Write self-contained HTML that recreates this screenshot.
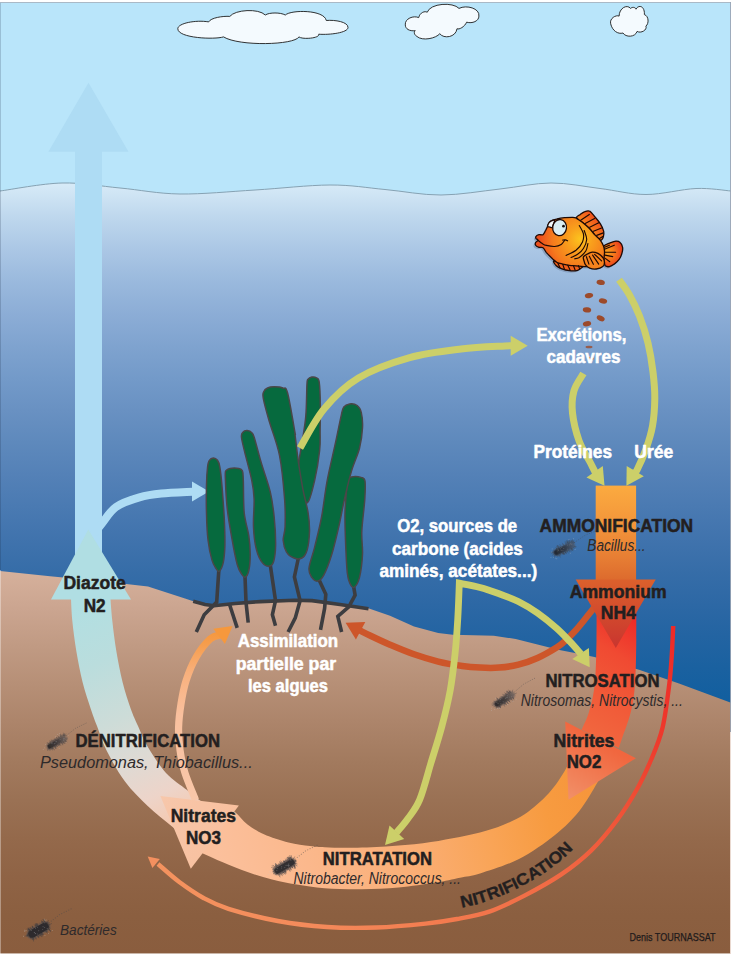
<!DOCTYPE html>
<html lang="fr"><head><meta charset="utf-8"><title>Cycle de l'azote</title>
<style>html,body{margin:0;padding:0;background:#fff}svg{display:block}text{font-family:"Liberation Sans",sans-serif}</style></head>
<body>
<svg width="731" height="954" viewBox="0 0 731 954">
<defs>
<linearGradient id="gw" gradientUnits="userSpaceOnUse" x1="0" y1="185" x2="0" y2="700"><stop offset="0.0" stop-color="#d6eaf7"/><stop offset="0.0625" stop-color="#bed7ed"/><stop offset="0.125" stop-color="#abc7e5"/><stop offset="0.1875" stop-color="#9ab9dd"/><stop offset="0.25" stop-color="#8cadd6"/><stop offset="0.3125" stop-color="#7fa3cf"/><stop offset="0.375" stop-color="#739ac9"/><stop offset="0.4375" stop-color="#6991c2"/><stop offset="0.5" stop-color="#5e89bc"/><stop offset="0.5625" stop-color="#5481b7"/><stop offset="0.625" stop-color="#4a7ab2"/><stop offset="0.6875" stop-color="#4073ad"/><stop offset="0.75" stop-color="#366da8"/><stop offset="0.8125" stop-color="#2d68a5"/><stop offset="0.875" stop-color="#2364a2"/><stop offset="0.9375" stop-color="#1a61a0"/><stop offset="1.0" stop-color="#125f9f"/></linearGradient>
<linearGradient id="gg" gradientUnits="userSpaceOnUse" x1="0" y1="570" x2="0" y2="954"><stop offset="0.0" stop-color="#d6b19c"/><stop offset="0.1" stop-color="#cba590"/><stop offset="0.2" stop-color="#c09a83"/><stop offset="0.3" stop-color="#b68f76"/><stop offset="0.4" stop-color="#ac846a"/><stop offset="0.5" stop-color="#a27a5e"/><stop offset="0.6" stop-color="#9a7154"/><stop offset="0.7" stop-color="#94694b"/><stop offset="0.8" stop-color="#8f6345"/><stop offset="0.9" stop-color="#8b5f40"/><stop offset="1.0" stop-color="#8a5d3e"/></linearGradient>
<linearGradient id="gsh" gradientUnits="userSpaceOnUse" x1="0" y1="485" x2="0" y2="585"><stop offset="0" stop-color="#fbab40"/><stop offset="0.4" stop-color="#f3953a"/><stop offset="0.75" stop-color="#e67c33"/><stop offset="1" stop-color="#da662c"/></linearGradient>
<linearGradient id="gred" gradientUnits="userSpaceOnUse" x1="650" y1="600" x2="540" y2="780"><stop offset="0.12" stop-color="#ee2c28"/><stop offset="0.3" stop-color="#f04a32"/><stop offset="0.5" stop-color="#f15a38"/><stop offset="0.7" stop-color="#f1673f"/><stop offset="0.85" stop-color="#f17b53"/><stop offset="1" stop-color="#f18f67"/></linearGradient>
<linearGradient id="gam" gradientUnits="userSpaceOnUse" x1="0" y1="579" x2="0" y2="648"><stop offset="0" stop-color="#dc612c"/><stop offset="0.5" stop-color="#d24a2d"/><stop offset="1" stop-color="#c9352f"/></linearGradient>
<linearGradient id="gnit" gradientUnits="userSpaceOnUse" x1="600" y1="760" x2="215" y2="840"><stop offset="0" stop-color="#f6943a"/><stop offset="0.16" stop-color="#f79b40"/><stop offset="0.31" stop-color="#f9a456"/><stop offset="0.52" stop-color="#faae75"/><stop offset="0.78" stop-color="#fbb88c"/><stop offset="1" stop-color="#fbc09c"/></linearGradient>
<linearGradient id="gden" gradientUnits="userSpaceOnUse" x1="90" y1="600" x2="190" y2="820"><stop offset="0" stop-color="#b1dfe2"/><stop offset="0.25" stop-color="#badddd"/><stop offset="0.5" stop-color="#cddcd8"/><stop offset="0.68" stop-color="#dedad4"/><stop offset="0.85" stop-color="#edd4c9"/><stop offset="1" stop-color="#f6c8ad"/></linearGradient>
<linearGradient id="glo" gradientUnits="userSpaceOnUse" x1="0" y1="800" x2="0" y2="630"><stop offset="0" stop-color="#f9c7a9"/><stop offset="0.5" stop-color="#f9c09e"/><stop offset="0.75" stop-color="#f8b07c"/><stop offset="0.92" stop-color="#f69d4c"/><stop offset="1" stop-color="#f5973c"/></linearGradient>
<linearGradient id="gnh" gradientUnits="userSpaceOnUse" x1="239" y1="830" x2="160" y2="800"><stop offset="0" stop-color="#f9bf9c"/><stop offset="1" stop-color="#f7c7ab"/></linearGradient>
<linearGradient id="garc" gradientUnits="userSpaceOnUse" x1="672" y1="626" x2="150" y2="860"><stop offset="0" stop-color="#ee2a28"/><stop offset="0.1" stop-color="#ee3a2c"/><stop offset="0.2" stop-color="#ef5036"/><stop offset="0.35" stop-color="#f16843"/><stop offset="0.6" stop-color="#f37d50"/><stop offset="0.8" stop-color="#f48b5b"/><stop offset="1" stop-color="#f4935f"/></linearGradient>
<radialGradient id="gfish" gradientUnits="userSpaceOnUse" cx="580" cy="239" r="40"><stop offset="0" stop-color="#fcc41e"/><stop offset="0.3" stop-color="#f9a01c"/><stop offset="0.7" stop-color="#f57a1d"/><stop offset="1" stop-color="#ec4f1c"/></radialGradient>
<radialGradient id="gtail" gradientUnits="userSpaceOnUse" cx="607" cy="252" r="17"><stop offset="0" stop-color="#f9a51c"/><stop offset="0.5" stop-color="#f4701c"/><stop offset="1" stop-color="#e8321c"/></radialGradient>
<linearGradient id="gdors" gradientUnits="userSpaceOnUse" x1="583" y1="230" x2="600" y2="214"><stop offset="0" stop-color="#f9961c"/><stop offset="0.5" stop-color="#f4681c"/><stop offset="1" stop-color="#ea3a1c"/></linearGradient>
<filter id="fb" x="-30%" y="-60%" width="160%" height="220%"><feGaussianBlur stdDeviation="0.7"/></filter>
<linearGradient id="gbf" x1="0" y1="0" x2="1" y2="0"><stop offset="0" stop-color="#1e1e22" stop-opacity="0.95"/><stop offset="0.55" stop-color="#2a2a2e" stop-opacity="0.8"/><stop offset="1" stop-color="#4a4a50" stop-opacity="0.45"/></linearGradient>
<path id="tpath" d="M456 909C460.2 908 471.8 905.9 481 903C490.2 900.1 501 896.2 511 891.5C521 886.8 531.8 880.9 541 875C550.2 869.1 558.5 862.6 566 856C573.5 849.4 582.7 838.9 586 835.5"/>
</defs>
<rect x="0" y="0" width="731" height="954" fill="#b9e5fa"/>
<path d="M0 191C10.3 189.7 42 183.5 62 183C82 182.5 100.3 186.2 120 188C139.7 189.8 157.5 193.7 180 194C202.5 194.3 230 191.5 255 190C280 188.5 308.3 185.1 330 185C351.7 184.9 366.5 187.8 385 189.5C403.5 191.2 421.8 195.1 441 195C460.2 194.9 481.7 191 500 189C518.3 187 534.3 183.1 551 183C567.7 182.9 584.2 186.6 600 188.5C615.8 190.4 630 194.5 646 194.5C662 194.5 681.8 189.1 696 188.5C710.2 187.9 725.2 190.6 731 191L731 720L0 720Z" fill="url(#gw)"/>
<path d="M0 191C10.3 189.7 42 183.5 62 183C82 182.5 100.3 186.2 120 188C139.7 189.8 157.5 193.7 180 194C202.5 194.3 230 191.5 255 190C280 188.5 308.3 185.1 330 185C351.7 184.9 366.5 187.8 385 189.5C403.5 191.2 421.8 195.1 441 195C460.2 194.9 481.7 191 500 189C518.3 187 534.3 183.1 551 183C567.7 182.9 584.2 186.6 600 188.5C615.8 190.4 630 194.5 646 194.5C662 194.5 681.8 189.1 696 188.5C710.2 187.9 725.2 190.6 731 191" fill="none" stroke="#86a2b3" stroke-width="1"/>
<path d="M0 571L50 576.3L100 581L148 586.6L185 598.5L194 601.5L212 605.5L235 603.5L260 601.6L300 600.4L340 604.5L369 608.4L390 615.8L414 626.6L438.2 633L452.7 634.8L493.8 635.7L515.7 639L537.5 644.4L559.4 650L581.3 654.3L594.4 657L639 669.7L679 683.6L731 702.7L731 954L0 954Z" fill="url(#gg)"/>
<path d="M177.8 28.7 C177.8 23.3 195.6 19.7 208.7 21.9 C210.6 17.8 222.9 15.9 229.8 16.4 C235.2 9.6 258.5 8.2 265.3 15 C269.4 12.3 280.4 12.3 285.3 15 C291.3 9.6 324.2 9.6 326.3 20.5 C335.1 19.7 348 21.9 348 27.4 C348 32.8 329.6 35 318.7 34.2 C320.1 38.3 302.3 39.7 299 36.9 C294.1 45.1 239.3 46.5 223.5 36.9 C214.7 39.7 177.8 38.3 177.8 28.7 Z" fill="#f4fafe" stroke="#1c1c1c" stroke-width="0.9" stroke-linejoin="round"/>
<path d="M405.3 24.9 C404.6 18.4 413.8 15.3 418.7 17.6 C419.9 12.3 425.2 10.7 427.2 12.3 C430.2 3.1 453.2 1.9 459 8.4 C466.6 4.6 480 8.4 478.9 16.1 C478.9 21.1 472.4 23.8 466.6 22.2 C464.7 26.8 459 29.9 457 28.7 C455.9 37.5 443.6 39.1 439.8 33.7 C436 38.3 422.6 41.4 416.8 36.4 C413.8 34.5 413.8 31.4 415.3 30.7 C409.2 31.4 405.3 28.7 405.3 24.9 Z" fill="#f4fafe" stroke="#1c1c1c" stroke-width="0.9" stroke-linejoin="round"/>
<path d="M610.7 23.8 C609.2 18.4 616.1 14.6 619.1 16.1 C619.1 8.4 626.8 3.8 630.6 8.4 C632.1 6.9 635.2 6.9 636 9.2 C638.3 4.6 644.8 5.4 644.4 14.6 C649 16.1 649 23.8 645.9 26.1 C647.5 29.9 641 33.7 637.1 31.4 C635.2 37.5 625.6 37.5 623 33 C618 34.5 612.2 30.7 610.7 23.8 Z" fill="#f4fafe" stroke="#1c1c1c" stroke-width="0.9" stroke-linejoin="round"/>
<path d="M88.5 82.8L128.5 151.8L102 151.8L102 560L75 560L75 151.8L48.4 151.8Z" fill="#aedcf4"/>
<path d="M94 534C95.3 532.2 98.3 527.9 102 523.4C105.7 518.9 109.8 511.3 116 507C122.2 502.7 131.8 499.6 139.4 497.4C147 495.1 152.4 494.4 161.3 493.5C170.2 492.6 187.7 492 193 491.7" fill="none" stroke="#aedcf4" stroke-width="8"/>
<path d="M209 491.4L192 501.4L192 481.4Z" fill="#aedcf4"/>
<g fill="none" stroke="#3d3d40" stroke-width="3.6" stroke-linejoin="miter"><path d="M193.2 601.2L205 604.5L214 605.8L235 603.5L260 601.6L294.4 600.2L312 600.6L340 604.5L368.5 608.8"/><path d="M218.9 569.1L216.7 602.1L204.2 614.7L196.3 632"/><path d="M245 576.4L246 602.1L248.2 622.6"/><path d="M229.3 603.7L237.2 627.9"/><path d="M270.2 564.4L275.5 600.6L272.4 614.7L275.5 625.7"/><path d="M298.5 557.5L294.4 577L300.1 600.6L295.3 617.9L288.1 632"/><path d="M318.9 579.5L325.8 594.3L324.6 608.4L320.5 629.8"/><path d="M353.5 585.8L355.1 595.2L348.8 606.9L337.8 616.3L341.6 632"/></g>
<g fill="#066a3e" stroke="#4a4748" stroke-width="1.5"><path d="M307 383.8C307.3 377.7 307.3 380.3 308.1 379.2C308.9 378.1 310.4 377.4 311.8 377.1C313.2 376.9 315.2 377 316.4 377.8C317.6 378.6 318.5 377.5 319.2 382C319.8 386.4 320.2 396.6 320.3 404.6C320.5 412.5 320.2 422.2 320.1 429.9C320 437.6 320.6 442.2 319.6 450.6C318.7 459.1 316.6 472 314.6 480.6C312.6 489.2 310 501 307.6 502.5C305.3 504 302.3 495.8 300.7 489.8C299.2 483.9 298.2 474.5 298.4 466.8C298.6 459.1 300.7 452.2 301.9 443.7C303.1 435.3 305 426.1 305.8 416.1C306.7 406.1 306.6 390 307 383.8Z"/><path d="M207.6 466.8C208.1 462.7 208.3 462 209.2 460.6C210.2 459.1 212 458.1 213.4 458C214.7 458 216.4 458.9 217.5 460.3C218.6 461.8 219.1 462.6 219.8 466.8C220.5 470.9 221.2 476.8 221.9 485.2C222.6 493.7 223.7 507.5 224.2 517.5C224.7 527.5 225 537.6 224.9 545.1C224.7 552.6 224.2 558.1 223.3 562.4C222.4 566.7 220.5 570.1 219.4 571.2C218.2 572.2 217.4 570.5 216.1 568.6C214.9 566.8 213.3 564.8 212 560.1C210.6 555.4 209 548.4 208.1 540.5C207.1 532.6 206.7 522.1 206.5 512.9C206.2 503.6 206.3 492.9 206.5 485.2C206.6 477.5 207.1 470.9 207.6 466.8Z"/><path d="M225.3 476C225.2 469.7 225.3 472 226 470.7C226.8 469.4 227.8 468.8 230 468.4C232.1 468 236.6 468 238.7 468.4C240.8 468.8 241.6 468.9 242.4 470.9C243.2 473 243 473.6 243.3 480.6C243.6 487.6 243.3 503.6 244.2 512.9C245.2 522.1 247.8 529 248.8 535.9C249.8 542.8 250.2 548.6 250.2 554.3C250.2 560.1 249.7 566.7 248.8 570.5C248 574.3 246.4 576.6 245.2 577.1C243.9 577.7 242.8 576 241.5 573.9C240.2 571.8 238.9 570.3 237.3 564.7C235.8 559.1 233.9 549.9 232.3 540.5C230.6 531.1 228.3 519 227.2 508.2C226 497.5 225.5 482.3 225.3 476Z"/><path d="M241.5 437.3C241.1 433.8 241.9 433.3 242.9 432.2C243.8 431.1 245.7 430.5 247.2 430.6C248.7 430.7 250.7 431.4 251.8 432.7C253 433.9 252.8 433.1 254.4 438C255.9 442.9 258.4 453.1 261.1 462.2C263.7 471.2 268.1 482.9 270.3 492.1C272.5 501.3 273.3 508.6 274.2 517.5C275.1 526.3 275.7 537.8 275.6 545.1C275.5 552.4 274.7 557.7 273.7 561.2C272.7 564.7 271.4 565.8 269.6 566.1C267.7 566.4 264.9 565.8 262.7 563.1C260.5 560.4 258 555.8 256.5 549.7C254.9 543.7 253.8 535.1 253.5 526.7C253.1 518.2 254.4 506.7 254.1 499C253.9 491.4 253.4 488.3 251.8 480.6C250.3 472.9 246.7 460.2 244.9 452.9C243.2 445.7 241.8 440.7 241.5 437.3Z"/><path d="M346.8 487.5C347.2 482.1 346.7 481.9 347.5 480.1C348.3 478.4 349.2 477.4 351.4 476.9C353.7 476.5 358.8 476.7 361.1 477.4C363.4 478.1 364.4 477.5 365 481.1C365.6 484.7 365.3 490.7 364.8 499C364.3 507.4 362.2 522.1 361.8 531.3C361.4 540.5 362.9 546.7 362.5 554.3C362.1 562 360.9 571.9 359.5 577.4C358.1 582.9 355.8 586.3 354.2 587.3C352.6 588.2 351 585.6 349.8 583.1C348.7 580.7 348 579.1 347.3 572.8C346.6 566.4 346.1 555.1 345.7 545.1C345.3 535.1 344.8 522.5 345 512.9C345.2 503.3 346.4 493 346.8 487.5Z"/><path d="M341.1 416.1C342.4 410 342.2 409.4 343.6 407.3C345 405.3 347.3 404.2 349.6 403.9C351.9 403.6 355.2 404 357.2 405.5C359.1 406.9 360.5 408.9 361.3 412.6C362.2 416.3 362.8 421.7 362.5 427.6C362.2 433.6 361.3 441 359.5 448.3C357.6 455.6 353.9 462.9 351.4 471.4C348.9 479.8 346.6 489.8 344.5 499C342.4 508.2 340.9 517.5 338.8 526.7C336.6 535.9 334.3 546.3 331.8 554.3C329.3 562.4 326.2 570.6 323.8 575.1C321.4 579.5 319.6 580.7 317.6 581.1C315.6 581.4 313.2 579.5 311.8 577.4C310.4 575.2 308.6 573.1 309 568.2C309.5 563.2 312.5 555.9 314.6 547.4C316.6 539 319.4 528.6 321.5 517.5C323.6 506.3 324.9 492.9 327.2 480.6C329.5 468.3 333 454.5 335.3 443.7C337.6 433 339.7 422.2 341.1 416.1Z"/><path d="M263.4 398.8C262.4 394 262.9 393.7 263.6 391.9C264.3 390.1 265.7 388.8 267.5 388C269.3 387.1 271.6 386.8 274.2 386.8C276.8 386.8 280.7 386.9 282.9 388C285.2 389 285.6 385.7 287.6 393C289.6 400.4 293.7 425.3 294.9 432.2C296.2 439.1 294.4 429.5 295 434.5C295.6 439.5 297.1 452.9 298.4 462.2C299.8 471.4 301.4 481.4 303 489.8C304.7 498.3 307 505.9 308.1 512.9C309.2 519.8 309.6 525.1 309.5 531.3C309.3 537.4 308.5 545.3 307.2 549.7C305.9 554.2 304.2 556.7 301.9 558C299.6 559.4 295.9 558.8 293.4 557.8C290.8 556.8 288.1 554.9 286.5 552C284.8 549.1 283.5 544.7 283.2 540.5C283 536.3 284.8 533.6 285.1 526.7C285.3 519.8 285.5 510.9 284.6 499C283.7 487.1 282.1 468.3 279.5 455.3C276.9 442.2 271.8 430.1 269.1 420.7C266.4 411.3 264.3 403.6 263.4 398.8Z"/></g>
<path d="M300 448C304 441.5 314.3 420.7 324 409C333.7 397.3 344.1 386.6 358.4 378C372.7 369.4 392.6 362.4 409.7 357.6C426.8 352.8 445.1 350.9 461 349C476.9 347.1 496.4 346.5 505 346C513.6 345.5 511.4 345.8 512.7 345.8" fill="none" stroke="#cccf69" stroke-width="7"/>
<path d="M527.7 345.8L510.7 355.8L510.7 335.8Z" fill="#cccf69"/>
<path d="M619 279.7C620.8 282.2 626.1 288.9 629.5 295C632.9 301.1 636.4 308 639.5 316C642.6 324 645.8 333.7 648 343C650.2 352.3 651.9 362.8 653 372C654.1 381.2 654.9 389 654.8 398C654.7 407 654 417.5 652.5 426C651 434.5 648.6 441.7 646 449C643.4 456.3 639 466 637 470C635 474 634.6 472.4 634.2 472.9" fill="none" stroke="#cccf69" stroke-width="7"/>
<path d="M626.4 485.7L626.7 466L643.8 476.3Z" fill="#cccf69"/>
<path d="M583.4 373.5C581.8 376.4 575.7 384.4 573.9 391C572.1 397.6 571.6 404.7 572.5 413C573.4 421.3 576.1 432.4 579 440.6C581.9 448.8 587.2 456.5 590 462C592.8 467.5 594.9 471.5 595.8 473.5" fill="none" stroke="#cccf69" stroke-width="7"/>
<path d="M604.5 485.7L586.5 477.6L602.8 466Z" fill="#cccf69"/>
<path d="M595.5 606C593.8 608.1 588.6 614.7 585.3 618.7C582 622.7 579 626.7 575.8 630.2C572.6 633.7 569.4 636.9 566.2 639.8C563 642.7 561.4 644.5 556.6 647.5C551.8 650.5 543.9 655.1 537.5 658C531.1 660.9 524.7 663.1 518.3 664.7C511.9 666.3 505.6 667.1 499.2 667.6C492.8 668.1 486.1 667.9 480 667.6C473.9 667.3 469.3 667 462.3 666C455.3 665 446.2 663.6 438.2 661.6C430.1 659.6 422 657.1 414 654.3C406 651.5 397.3 647.8 390 644.7C382.7 641.6 375.2 638 370 635.5C364.8 633 360.7 630.8 358.8 629.9" fill="none" stroke="#cd562a" stroke-width="6.5"/>
<path d="M345.6 622.8L365.3 622L355.9 639.6Z" fill="#cd562a"/>
<path d="M581 654C579.2 652 574.1 646 570 641.7C565.9 637.4 562 633.1 556.6 628.3C551.2 623.5 543.9 617.5 537.5 613C531.1 608.5 524.7 604.7 518.3 601.5C511.9 598.3 505.6 596.1 499.2 593.8C492.8 591.5 486.6 589.3 480 587.5C473.4 585.7 462.8 583.9 459.3 583.2C459.1 589 458.5 606.4 457.8 618.2C457.1 630.1 456.3 642.2 455 654.3C453.7 666.3 452.4 678.5 450.2 690.5C448 702.5 445 714.6 441.8 726.6C438.6 738.6 434.7 750.6 431 762.8C427.3 775 423.6 790.2 419.7 799.6C415.8 809 411.5 813.5 407.6 819C403.7 824.5 398.4 830.3 396.5 832.6" fill="none" stroke="#cccf69" stroke-width="6.8" stroke-linejoin="miter" stroke-miterlimit="10"/>
<path d="M589.7 667.2L572.3 659L588.9 647.9Z" fill="#cccf69"/>
<path d="M385 845L389.5 825.4L404.2 838.9Z" fill="#cccf69"/>
<rect x="595.7" y="485.6" width="40.4" height="100" fill="url(#gsh)"/>
<path d="M596.5 590C596.5 598.3 596.8 624.3 596.5 640C596.2 655.7 596 672 594.7 684C593.5 696 591.2 704.4 589 712C586.8 719.6 582.8 726.8 581.6 729.7L618.8 748C619.3 746.4 620 744.5 622 738.5C624 732.5 628.6 721.1 630.8 712C633 702.9 634.1 696 635 684C635.9 672 636.1 655.7 636.3 640C636.5 624.3 636.3 598.3 636.3 590Z" fill="url(#gred)"/>
<path d="M575.7 579.4L655.7 579.4L615.8 647.9Z" fill="url(#gam)"/>
<path d="M226 807C227.5 807.9 231.6 809.3 235.2 812.2C238.8 815.1 242.7 820.8 247.5 824.5C252.3 828.2 257.1 831.3 263.9 834.3C270.7 837.3 280.8 840.5 288.5 842.5C296.2 844.5 304 845.2 310 846C316 846.8 318.1 846.9 324.6 847.2C331.1 847.5 338.9 847.9 349.2 847.8C359.5 847.7 373.9 847.2 386.2 846.4C398.5 845.6 411.9 844.6 423 843.2C434.1 841.9 443.2 840.1 452.7 838.3C462.2 836.5 471.6 834.7 480 832.5C488.4 830.3 495.5 828.1 503 825C510.5 821.9 517.3 819.3 525 814C532.7 808.7 542.2 800.5 549 793C555.8 785.5 562 775.8 565.8 769C569.6 762.2 571 754.8 572 752L606 766C604.6 768.8 601.9 775.1 597.4 782.6C592.9 790.1 586.4 802.3 579.3 811C572.2 819.7 565 827 555 835C545 843 531.5 852.6 519 859C506.5 865.4 489.8 870.4 480 873.5C470.2 876.6 467.4 876.2 460 877.7C452.6 879.2 445.6 881 435.4 882.6C425.1 884.2 410.8 886.5 398.5 887.6C386.2 888.7 373.9 889.2 361.6 889.3C349.3 889.4 335.4 889.1 324.6 888.3C313.8 887.5 305.4 886.1 296.7 884.6C287.9 883.1 280.3 881.6 272.1 879.5C263.9 877.4 255.7 875 247.5 872.1C239.3 869.2 230.3 865.4 222.8 862.2C215.3 859.1 208.1 855.9 202.3 853.2C196.5 850.5 190.4 847.2 188 846Z" fill="url(#gnit)"/>
<path d="M70.9 596C71.1 600.1 71.4 611.5 72.3 620.8C73.2 630.1 74.7 641.4 76.4 651.6C78.1 661.9 80.2 672.7 82.6 682.3C85 691.9 88.4 701.7 90.8 709C93.2 716.3 94.3 719 97 726C99.7 733 102 741.5 106.7 750.8C111.4 760.1 118.2 772.4 125 781.6C131.8 790.8 139.8 798.5 147.7 806C155.6 813.5 164.4 820.2 172.3 826.7C180.2 833.2 191.2 842 195 845L225 818C220.5 814.8 204.4 803.7 198 799C191.6 794.3 192 794.1 186.7 789.8C181.4 785.5 172.5 780.2 166 773C159.5 765.8 152.4 754.5 147.7 746.7C143 738.9 140.8 732.3 138 726C135.2 719.7 133.4 716.3 130.8 709C128.2 701.7 125 691.9 122.6 682.3C120.2 672.7 118.1 661.9 116.4 651.6C114.7 641.4 113.3 630.1 112.3 620.8C111.3 611.5 110.6 600.1 110.3 596Z" fill="url(#gden)"/>
<path d="M88.3 529.6L131 599.6L51 599.6Z" fill="#b0dee3"/>
<path d="M195.5 800C193.8 795.5 187.6 781.3 185 773C182.4 764.7 181.1 757.7 180 750C178.9 742.3 178.4 734.7 178.6 727C178.8 719.3 179.8 711.6 181 703.9C182.2 696.2 183.5 688.5 186 680.8C188.5 673.1 191.8 664.6 195.8 657.7C199.8 650.8 205.8 643 210 639.2C214.2 635.4 219.2 635.5 221 634.8" fill="none" stroke="url(#glo)" stroke-width="7.2"/>
<path d="M232.6 626L224.9 643.9L213.3 628.8Z" fill="#f6983c"/>
<path d="M160.4 795.9L238.9 805.5L190.8 868.7Z" fill="url(#gnh)"/>
<path d="M565.2 721.4L635.9 758.2L568.5 799.8Z" fill="url(#gred)"/>
<path d="M673.2 626C673 630.8 672.4 645.3 671.8 655C671.1 664.7 670.8 671.9 669.3 684C667.8 696.1 665.6 714.8 662.6 727.5C659.6 740.2 655.4 749.6 651 760C646.6 770.4 642.2 780 636.5 790C630.8 800 624.5 810.2 617 820.2C609.5 830.2 600.6 841.3 591.3 850.3C582 859.3 572.3 866.9 561.3 874.4C550.2 881.9 536.9 889.2 525 895.4C513.1 901.5 501.3 907.4 490 911.3C478.7 915.2 467.7 917 457 919C446.3 921 439.1 922.2 425.6 923.6C412.2 925 392.7 926.9 376.3 927.5C359.9 928.1 343.4 928.1 327 927C310.6 925.9 294.2 924 277.8 921C261.4 918 240.8 912.6 228.5 908.8C216.2 905 212.1 902.7 203.9 898.2C195.7 893.7 187 887.7 179.3 882C171.7 876.3 161.6 867 158 864" fill="none" stroke="url(#garc)" stroke-width="4.4"/>
<path d="M147.7 856.4L159.8 859.1L152.4 867.9Z" fill="#f4905f"/>
<ellipse cx="600.7" cy="282.4" rx="4.2" ry="2.6" fill="#9c4a2a" transform="rotate(10 600.7 282.4)"/>
<ellipse cx="589" cy="295.6" rx="4.2" ry="2.6" fill="#9c4a2a" transform="rotate(-10 589 295.6)"/>
<ellipse cx="603" cy="301" rx="4.2" ry="2.6" fill="#9c4a2a" transform="rotate(10 603 301)"/>
<ellipse cx="587" cy="309.8" rx="4.2" ry="2.6" fill="#9c4a2a" transform="rotate(5 587 309.8)"/>
<ellipse cx="600.7" cy="318.3" rx="4.2" ry="2.6" fill="#9c4a2a" transform="rotate(25 600.7 318.3)"/>
<ellipse cx="587" cy="323.7" rx="4.2" ry="2.6" fill="#9c4a2a" transform="rotate(-10 587 323.7)"/>
<ellipse cx="589" cy="347" rx="3.5" ry="1.3" fill="#9c4a2a" opacity="0.8"/>
<ellipse cx="590.5" cy="358.5" rx="3.2" ry="1.8" fill="#9c4a2a" opacity="0.8"/>
<path d="M536.2 236.2C536.7 235.6 537.9 235 539 234.7C540.2 234.4 542 235.3 543.1 234.6C544.2 233.8 544.8 231.8 545.6 230.5C546.4 229.1 546.8 227.9 547.7 226.3C548.5 224.8 549 222.5 550.5 221.3C552.1 220 554.8 219.5 557.1 219C559.4 218.4 561.9 218 564.5 217.7C567.1 217.5 570.5 217.2 572.7 217.3C574.9 217.5 577 218.4 577.6 218.5C578.2 218.7 575.4 217.5 576.2 218.1C576.9 218.8 580.2 220.6 582.3 222.2C584.4 223.9 586.8 225.9 588.9 228C590.9 230 592.7 232.5 594.6 234.6C596.5 236.6 598.9 238.4 600.4 240.3C601.9 242.2 602.8 244.3 603.5 246.1C604.2 247.8 604.4 249.2 604.5 251C604.6 252.8 604.4 254.8 604.1 256.7C603.7 258.6 603.6 260.9 602.4 262.5C601.3 264 600.2 265.5 597.1 266.2C594 266.9 587.5 266.6 584 266.6C580.4 266.5 578.4 266 576 265.8C573.6 265.6 571.6 265.6 569.4 265.3C567.2 265.1 564.9 264.6 562.8 264.1C560.8 263.6 558.7 263.3 557.1 262.5C555.5 261.7 554.8 260.8 553 259.2C551.2 257.5 548.1 254.5 546.4 252.6C544.8 250.7 544.4 248.6 543.1 247.7C541.9 246.8 540.3 247.7 539 247.3C537.8 246.9 536.1 246.1 535.6 245.2C535 244.4 535.3 243.2 535.7 242.4C536.2 241.5 538.2 241 538.2 240.3C538.2 239.6 536.3 238.9 535.9 238.3C535.6 237.6 535.6 236.8 536.2 236.2Z" fill="#5d6f8c" opacity="0.38" transform="translate(-1.8 1.8)"/><g stroke="#1e0a05" stroke-width="1.3" stroke-linejoin="round"><path d="M603.7 246.1C604.6 244.8 607.4 244 609.4 243.2C611.5 242.4 614.2 241.3 616 241.1C617.8 241 619 241.4 620.1 242.4C621.2 243.3 622.2 245.2 622.5 246.9C622.9 248.6 622.7 250.6 622.1 252.6C621.6 254.7 620.6 257.3 619.3 259.2C618 261.1 616 262.9 614.3 264.1C612.7 265.3 610.9 266.3 609.4 266.6C607.9 266.9 606.2 266.6 605.3 265.8C604.5 264.9 604.6 263.3 604.3 261.7C604.1 260 603.9 257.7 603.8 255.9C603.8 254.1 604.1 252.6 604.1 251C604 249.3 602.8 247.4 603.7 246.1Z" fill="#5d6f8c" opacity="0.38" stroke="none" transform="translate(-1.5 1.8)"/><path d="M603.7 246.1C604.6 244.8 607.4 244 609.4 243.2C611.5 242.4 614.2 241.3 616 241.1C617.8 241 619 241.4 620.1 242.4C621.2 243.3 622.2 245.2 622.5 246.9C622.9 248.6 622.7 250.6 622.1 252.6C621.6 254.7 620.6 257.3 619.3 259.2C618 261.1 616 262.9 614.3 264.1C612.7 265.3 610.9 266.3 609.4 266.6C607.9 266.9 606.2 266.6 605.3 265.8C604.5 264.9 604.6 263.3 604.3 261.7C604.1 260 603.9 257.7 603.8 255.9C603.8 254.1 604.1 252.6 604.1 251C604 249.3 602.8 247.4 603.7 246.1Z" fill="url(#gtail)"/><path d="M576.2 218.1C575.8 216.8 578.8 215.5 580.3 214.4C581.7 213.3 583.2 212.1 584.8 211.6C586.4 211 588.1 210.3 589.7 211.2C591.3 212 592.9 214.4 594.6 216.5C596.4 218.6 598.9 221.4 600.4 223.9C601.9 226.3 603.2 229.1 603.7 231.3C604.1 233.5 603.8 235.5 603.3 237C602.7 238.5 601.8 240.7 600.4 240.3C598.9 239.9 596.5 236.6 594.6 234.6C592.7 232.5 590.9 230 588.9 228C586.8 225.9 584.4 223.9 582.3 222.2C580.2 220.6 576.5 219.4 576.2 218.1Z" fill="url(#gdors)"/><path d="M553.8 260.8C552.7 261.3 555 264.5 556.3 265.8C557.5 267.1 559 267.8 561.2 268.6C563.4 269.4 566.7 270.4 569.4 270.7C572.1 271 575.4 270.9 577.6 270.3C579.8 269.7 581.5 267.9 582.5 267C583.6 266 584.9 264.9 583.8 264.5C582.7 264.1 579.5 264.8 576 264.5C572.5 264.3 566.5 263.5 562.8 262.9C559.1 262.3 554.9 260.4 553.8 260.8Z" fill="#5d6f8c" opacity="0.38" stroke="none" transform="translate(-1.5 1.8)"/><path d="M553.8 260.8C552.7 261.3 555 264.5 556.3 265.8C557.5 267.1 559 267.8 561.2 268.6C563.4 269.4 566.7 270.4 569.4 270.7C572.1 271 575.4 270.9 577.6 270.3C579.8 269.7 581.5 267.9 582.5 267C583.6 266 584.9 264.9 583.8 264.5C582.7 264.1 579.5 264.8 576 264.5C572.5 264.3 566.5 263.5 562.8 262.9C559.1 262.3 554.9 260.4 553.8 260.8Z" fill="#f2601c"/><path d="M536.2 236.2C536.7 235.6 537.9 235 539 234.7C540.2 234.4 542 235.3 543.1 234.6C544.2 233.8 544.8 231.8 545.6 230.5C546.4 229.1 546.8 227.9 547.7 226.3C548.5 224.8 549 222.5 550.5 221.3C552.1 220 554.8 219.5 557.1 219C559.4 218.4 561.9 218 564.5 217.7C567.1 217.5 570.5 217.2 572.7 217.3C574.9 217.5 577 218.4 577.6 218.5C578.2 218.7 575.4 217.5 576.2 218.1C576.9 218.8 580.2 220.6 582.3 222.2C584.4 223.9 586.8 225.9 588.9 228C590.9 230 592.7 232.5 594.6 234.6C596.5 236.6 598.9 238.4 600.4 240.3C601.9 242.2 602.8 244.3 603.5 246.1C604.2 247.8 604.4 249.2 604.5 251C604.6 252.8 604.4 254.8 604.1 256.7C603.7 258.6 603.6 260.9 602.4 262.5C601.3 264 600.2 265.5 597.1 266.2C594 266.9 587.5 266.6 584 266.6C580.4 266.5 578.4 266 576 265.8C573.6 265.6 571.6 265.6 569.4 265.3C567.2 265.1 564.9 264.6 562.8 264.1C560.8 263.6 558.7 263.3 557.1 262.5C555.5 261.7 554.8 260.8 553 259.2C551.2 257.5 548.1 254.5 546.4 252.6C544.8 250.7 544.4 248.6 543.1 247.7C541.9 246.8 540.3 247.7 539 247.3C537.8 246.9 536.1 246.1 535.6 245.2C535 244.4 535.3 243.2 535.7 242.4C536.2 241.5 538.2 241 538.2 240.3C538.2 239.6 536.3 238.9 535.9 238.3C535.6 237.6 535.6 236.8 536.2 236.2Z" fill="url(#gfish)"/><path d="M583.5 256.7C584.2 255.6 586.2 254.6 587.7 253.9C589.1 253.1 590.5 252.3 592.2 252.2C593.9 252.1 596.1 252.6 597.9 253.4C599.7 254.3 601.7 256 602.8 257.5C603.9 259.1 604.5 261 604.5 262.5C604.5 264 604.2 265.5 602.8 266.6C601.5 267.7 598.5 268.8 596.3 269C594.1 269.3 591.5 268.9 589.7 268.2C587.9 267.5 586.6 266.2 585.6 264.9C584.6 263.7 584.3 262.2 584 260.8C583.6 259.5 582.9 257.9 583.5 256.7Z" fill="#f6821d"/><path d="M547.7 226.5C547.5 225.8 548.4 223.6 549 222.7C549.7 221.7 550.6 221.1 551.5 220.8C552.4 220.4 554.3 220.1 554.6 220.6C554.9 221.1 553.8 222.7 553.4 223.9C553 225 552.8 227.1 552.2 227.6C551.6 228.1 550.5 227.2 549.7 227C549 226.8 547.8 227.2 547.7 226.5Z" fill="#f2fafc"/><ellipse cx="559.6" cy="227.6" rx="6.9" ry="8.1" fill="#d9eef3" transform="rotate(8 559.6 227.6)"/><circle cx="563.5" cy="226.2" r="1.35" fill="#15100e" stroke="none"/></g><g fill="none" stroke="#1e0a05" stroke-width="1.15" stroke-linecap="round"><path d="M538.2 240.5C538.9 241 540.9 242.8 542.3 243.6C543.7 244.4 544.4 244.9 546.4 245.4C548.5 245.9 552.2 246.6 554.6 246.5C557.1 246.3 559.6 245.4 561.2 244.4C562.8 243.4 563.9 241.1 564.5 240.5"/><path d="M562.7 240.1C563.1 240.1 564.5 239.8 565.3 239.9C566.1 240 567.2 240.6 567.6 240.8"/><path d="M579.3 225.5C579.9 226.9 582.8 231 583.4 233.7C583.9 236.5 583.8 239.2 582.5 241.9C581.3 244.7 578.7 247.9 576 250.2C573.2 252.4 567.8 254.6 566.1 255.5"/><path d="M584.2 230.5C584.6 232 586.8 236.5 586.7 239.5C586.5 242.5 584.9 246.1 583.4 248.5C581.9 251 579.7 252.8 577.6 254.3C575.6 255.8 572.1 257 571.1 257.5"/><path d="M587.9 243.6C587.5 244.8 587.3 248.7 585.8 251C584.4 253.3 581.1 256.2 579.3 257.5C577.4 258.8 575.5 258.6 574.7 258.8"/><path d="M580.7 220.2L589.3 214.4"/><path d="M585.2 223.5L594.6 218.5"/><path d="M589.7 227.2L598.7 222.7"/><path d="M593.4 231.3L601.6 228"/><path d="M596.7 235.4L603.3 232.9"/><path d="M599.1 238.7L602.8 236.6"/><path d="M604.5 249.3L614.3 245.2"/><path d="M604.9 252.2L615.6 252.2"/><path d="M604.9 255.1L612.7 256.6"/><path d="M605.3 258.4L609.8 261.7"/><path d="M604.6 247.3L609.4 245.2"/><path d="M586.4 256.7L588.9 264.1"/><path d="M589.3 256.3L593.4 264.3"/><path d="M592.6 255.1L598.7 264.1"/><path d="M594.6 254.3L601.6 260.8"/><path d="M557.9 263.3L560 267.8"/><path d="M562.8 264.5L564.5 269.4"/><path d="M567.8 265.3L570.2 270.3"/><path d="M573.5 265.8L575.2 270.3"/><path d="M578.4 265.6L579.7 269"/></g>
<g transform="translate(38.5 930.2) rotate(-30) scale(1.0)"><rect x="-13" y="-5.5" width="26" height="11" rx="5.5" fill="#55555a" opacity="0.5" filter="url(#fb)"/><rect x="-11.5" y="-4" width="23" height="8" rx="4" fill="#26262a" opacity="0.9" filter="url(#fb)"/><path d="M-0.9 4L-0.4 5.7M5.9 4L6.3 5.4M-3.8 -4L-3 -6.8M1.9 4L2.2 6.8M-6.7 -4L-7.1 -5.3M7.4 -4L7 -6.7M-6 -4L-6 -6.9M-0.8 4L-0.7 7.6M-8.1 4L-8.6 6M-8.4 -4L-7.8 -6.2M-8.4 3.9L-9 6.3M9.4 4L9.5 5.7M11 -2L13.7 -3.6M-7.5 -4L-8.4 -6.4M-0.3 -4L-1 -7.1M-11.4 -1L-12.5 -1.3M7.1 4L6.5 5.7M9.3 -3.6L10.1 -5.3M5.3 4L5.2 5.4M11.2 -1.6L12.6 -2.2M1.7 -4L1.3 -5.6M8 -4L7.2 -6.8M1.1 4L1.2 6.3M-7.7 -4L-8.4 -7.1M-2.1 4L-2 6M-11.5 -0.3L-13.4 -0.4M8.2 -4L7.4 -6.3M-11.2 -1.6L-12.5 -2.2M-7.1 4L-6.7 7M1.7 -4L2.5 -6.4M-2.8 4L-3.9 6.9M-0.3 4L0.2 5.4M0.9 -4L1.5 -7M5.7 4L6.3 7.5M7.3 4L6.3 6.5M-9.5 4L-10 5.4M-8 -4L-7.1 -7.1M-2.2 4L-1.8 5.4M4.9 -4L4.5 -5.3M8.9 -4L9.3 -7.6M-4.8 -4L-5.6 -6.8M0.4 4L0.2 7.5M-11.4 -0.9L-14.8 -1.6M9.1 -3.6L10.5 -6.7M6.8 -4L6.5 -5.6M-1 4L-0.4 6.2M0.4 4L1.2 6.8M-3.5 -4L-3.3 -7M-4.3 4L-4 5.2M10.2 3L11.4 4.4M-7 -4L-7.5 -5.5M0.7 4L0.9 5.7M-0.5 -4L0 -6.6M-9.1 -4L-9.4 -7M0.4 -4L1.2 -7.6M-11.5 -0.6L-13.6 -0.9M1.3 4L1.6 5.7M-8.7 3.8L-9.9 7.4M0.7 4L0.9 5.2M0.1 -4L0.2 -7.2M9.1 3.7L10.4 6.7M-6.4 4L-5.6 6.4M9.8 4L9.7 7.7M-8.1 -4L-7.9 -7.4M1.2 -4L1.9 -6.7M-3.7 4L-2.9 6.8M-3.8 -4L-3.8 -6.7M-5.8 -4L-5.7 -5.3M9.2 4L9.8 5.5M11.5 0.5L15 0.9" stroke="#3a3a3e" stroke-width="0.6" opacity="0.6" fill="none"/><circle cx="5.7" cy="-0.7" r="0.45" fill="#8d8d90" opacity="0.6"/><circle cx="-4.8" cy="-0" r="0.45" fill="#8d8d90" opacity="0.6"/><circle cx="-3" cy="2.7" r="0.45" fill="#8d8d90" opacity="0.6"/><circle cx="8.3" cy="2.9" r="0.45" fill="#8d8d90" opacity="0.6"/><circle cx="0.5" cy="-2.7" r="0.45" fill="#8d8d90" opacity="0.6"/><circle cx="-1.5" cy="-3.2" r="0.45" fill="#8d8d90" opacity="0.6"/><circle cx="-4.6" cy="1.4" r="0.45" fill="#8d8d90" opacity="0.6"/><circle cx="9.1" cy="-3.2" r="0.45" fill="#8d8d90" opacity="0.6"/><circle cx="-6.5" cy="-3.3" r="0.45" fill="#8d8d90" opacity="0.6"/><circle cx="-4.1" cy="1.5" r="0.45" fill="#8d8d90" opacity="0.6"/><circle cx="-4.9" cy="-0" r="0.45" fill="#8d8d90" opacity="0.6"/><circle cx="-0" cy="0.6" r="0.45" fill="#8d8d90" opacity="0.6"/><circle cx="6.7" cy="0.8" r="0.45" fill="#8d8d90" opacity="0.6"/><circle cx="4.1" cy="1.4" r="0.45" fill="#8d8d90" opacity="0.6"/><circle cx="10.5" cy="-5.2" r="0.45" fill="#c8c8c8" opacity="0.5"/><circle cx="-11.9" cy="-6.8" r="0.45" fill="#c8c8c8" opacity="0.5"/><circle cx="-12.4" cy="-5.7" r="0.45" fill="#c8c8c8" opacity="0.5"/><circle cx="10.8" cy="-6.5" r="0.45" fill="#c8c8c8" opacity="0.5"/><circle cx="3" cy="7.8" r="0.45" fill="#c8c8c8" opacity="0.5"/><circle cx="-16.1" cy="-2.3" r="0.45" fill="#c8c8c8" opacity="0.5"/><circle cx="11.8" cy="7.1" r="0.45" fill="#c8c8c8" opacity="0.5"/><circle cx="-11" cy="-5.9" r="0.45" fill="#c8c8c8" opacity="0.5"/><circle cx="7" cy="8" r="0.45" fill="#c8c8c8" opacity="0.5"/><circle cx="11.7" cy="-5" r="0.45" fill="#c8c8c8" opacity="0.5"/><path d="M12.5 -1L26 -3L40 -2" stroke="#4a4a4c" stroke-width="0.9" stroke-dasharray="1 1.6" opacity="0.5" fill="none"/></g>
<g transform="translate(56.7 742.3) rotate(-30) scale(0.9)"><rect x="-13" y="-4.3" width="26" height="8.6" rx="4.3" fill="#55555a" opacity="0.35" filter="url(#fb)"/><rect x="-11.5" y="-2.8" width="23" height="5.6" rx="2.8" fill="url(#gbf)" opacity="0.9" filter="url(#fb)"/><path d="M5.4 -2.8L4.9 -4.6M4.4 2.8L4.2 6.4M-11.3 1.1L-12.6 1.7M1.4 2.8L1.9 4.3M0.1 2.8L0.4 4.5M10.6 2.1L11.7 3.2M10 -2.5L11.8 -5.6M-11.1 1.5L-13.7 3.2M-3.4 2.8L-3.6 4.5M-2.5 -2.8L-3.1 -5.2M4.7 2.8L4.8 4.2M5.7 2.8L6.4 5.8M7.1 2.8L6.4 5.5M-3.1 2.8L-4.1 5.9M11.1 -1.4L13.9 -3.1M10.2 -2.3L11.3 -4M-7.8 2.8L-7.4 4.1M-4.4 2.8L-4.1 5.5M0.6 2.8L0.6 4.6M-7.4 2.8L-8.5 5.6M4.7 2.8L4.7 6M10.7 -2L12.6 -3.8M0.2 -2.8L0.5 -4.2M1.9 -2.8L2.7 -5M9.2 2.8L9.4 5.1M-0.1 2.8L0.1 5M-4.2 2.8L-4.7 5.9M-4 -2.8L-3.8 -5.6M11 -1.5L12.2 -2.3M9.5 2.7L10.4 5.6M9.6 -2.7L10 -4.2M9 -2.8L8.1 -5.6M-0.9 -2.8L-1 -4.4M-2.7 -2.8L-2.7 -4.7M1.6 2.8L2.3 6.1M-7.1 2.8L-7.4 4.3M7.7 2.8L7.9 5.9M3.9 -2.8L4.2 -4.5M-4.9 -2.8L-5.4 -4.2M-9 -2.8L-9.3 -5.4M-8.4 -2.8L-8.8 -4.6M9.4 2.8L8.9 4.9M4.8 -2.8L4.6 -6.1M6.6 -2.8L7 -5M-6.8 -2.8L-6 -4.8M1 -2.8L0.8 -4.3M7.3 -2.8L7.2 -5.5M6.2 2.8L6.5 4.2M-5.6 -2.8L-5.6 -6M11.2 1.3L13.1 2.3M-7.5 2.8L-6.3 6.4M8.1 2.8L9 5.2M-10.1 2.4L-11.2 4.2M-2 2.8L-1.6 5M-2.1 -2.8L-2.1 -4.5M5.1 2.8L4.8 4.2M-6.7 2.8L-6.3 6.1M-8.5 2.8L-9 4.2M-11.3 1.1L-12.6 1.7M10.5 -2.2L12.5 -4.6M-2.1 2.8L-2.3 4.4M-0.2 -2.8L0.5 -5.1M6.4 2.8L7.2 6.2M7.6 -2.8L8.2 -6.1M-1.5 2.8L-1.9 4.4M2.6 -2.8L2.4 -5.4M-4.4 -2.8L-4.1 -4.8M-6.7 -2.8L-6.5 -4M-0.4 -2.8L-0.9 -4.9M1.7 2.8L1.4 4.5" stroke="#3a3a3e" stroke-width="0.6" opacity="0.45" fill="none"/><circle cx="-4.2" cy="-1.4" r="0.45" fill="#8d8d90" opacity="0.6"/><circle cx="4.9" cy="-0.8" r="0.45" fill="#8d8d90" opacity="0.6"/><circle cx="0.9" cy="1.4" r="0.45" fill="#8d8d90" opacity="0.6"/><circle cx="-0.4" cy="-1.1" r="0.45" fill="#8d8d90" opacity="0.6"/><circle cx="7.4" cy="1.8" r="0.45" fill="#8d8d90" opacity="0.6"/><circle cx="-3" cy="0.2" r="0.45" fill="#8d8d90" opacity="0.6"/><circle cx="8.7" cy="-0.1" r="0.45" fill="#8d8d90" opacity="0.6"/><circle cx="-5.3" cy="-2" r="0.45" fill="#8d8d90" opacity="0.6"/><circle cx="8.5" cy="1.3" r="0.45" fill="#8d8d90" opacity="0.6"/><circle cx="-2.2" cy="0.1" r="0.45" fill="#8d8d90" opacity="0.6"/><circle cx="0.3" cy="-1" r="0.45" fill="#8d8d90" opacity="0.6"/><circle cx="9.3" cy="0.7" r="0.45" fill="#8d8d90" opacity="0.6"/><circle cx="-5" cy="-2.2" r="0.45" fill="#8d8d90" opacity="0.6"/><circle cx="-0.5" cy="-0.6" r="0.45" fill="#8d8d90" opacity="0.6"/><circle cx="5" cy="-6.9" r="0.45" fill="#c8c8c8" opacity="0.5"/><circle cx="-11.8" cy="-3.9" r="0.45" fill="#c8c8c8" opacity="0.5"/><circle cx="8.7" cy="5.5" r="0.45" fill="#c8c8c8" opacity="0.5"/><circle cx="-1.1" cy="7.4" r="0.45" fill="#c8c8c8" opacity="0.5"/><circle cx="-16.9" cy="-0.7" r="0.45" fill="#c8c8c8" opacity="0.5"/><circle cx="15.4" cy="-0.3" r="0.45" fill="#c8c8c8" opacity="0.5"/><circle cx="-14.6" cy="-1.3" r="0.45" fill="#c8c8c8" opacity="0.5"/><circle cx="1.8" cy="-6" r="0.45" fill="#c8c8c8" opacity="0.5"/><circle cx="7.7" cy="-6.7" r="0.45" fill="#c8c8c8" opacity="0.5"/><circle cx="6.4" cy="-5.5" r="0.45" fill="#c8c8c8" opacity="0.5"/><path d="M12.5 -1L26 -3L40 -2" stroke="#4a4a4c" stroke-width="0.9" stroke-dasharray="1 1.6" opacity="0.5" fill="none"/></g>
<g transform="translate(284.5 866.5) rotate(-30) scale(1.0)"><rect x="-13" y="-5.1" width="26" height="10.2" rx="5.1" fill="#55555a" opacity="0.5" filter="url(#fb)"/><rect x="-11.5" y="-3.6" width="23" height="7.2" rx="3.6" fill="#26262a" opacity="0.9" filter="url(#fb)"/><path d="M-4.5 -3.6L-4.3 -5M-9.9 -3L-11.9 -6M11.5 0.5L13.1 0.7M6.5 3.6L6.3 6.2M9.7 -3.6L9.9 -5.1M-2.1 3.6L-1.7 5.1M-1.1 3.6L-1.1 5.6M-7.6 -3.6L-6.7 -6.7M7.8 -3.6L7.6 -6.2M-3.9 3.6L-3.9 5M-6.1 3.6L-6.6 7.3M1.2 3.6L1.1 5.1M2.4 -3.6L2.7 -5.3M-1.9 3.6L-2.5 5.4M-6.7 -3.6L-6.3 -5.7M6.3 -3.6L7 -6.9M-2.2 3.6L-1.9 6.7M2.2 3.6L2.9 6.5M2.1 -3.6L1.6 -5.6M11 -1.8L13.9 -3.5M2.2 -3.6L2.2 -5.6M-5.2 -3.6L-6.1 -7.2M9.7 -3.6L8.6 -6.5M11.4 0.9L13.4 1.3M8.4 3.6L9.1 6M4.5 -3.6L4.6 -6.3M10.5 2.5L12.5 4.4M-7.4 -3.6L-6.8 -5.4M-11.5 0.5L-13.8 0.9M-1.9 -3.6L-1.5 -6.7M-11.4 -1L-12.9 -1.4M11.5 0.2L13.3 0.3M8.4 -3.6L7.4 -6.5M-6.9 3.6L-7 5.9M2.4 3.6L2.4 7.4M6.6 3.6L6.2 5.1M8.6 3.6L8.4 7.2M-3.5 -3.6L-3.3 -5.9M-2.4 3.6L-2.8 6.3M-8.4 -3.6L-9.1 -7.1M9.2 3.6L9.3 5.4M-3.8 3.6L-2.6 7.4M4.5 3.6L4.3 6.9M-5.4 3.6L-5 5.1M5.7 -3.6L5.9 -6M9.8 -3.1L11.6 -6.1M-10.9 2L-11.9 2.8M-9.2 3.6L-9.2 7.2M9.3 3.6L8.5 7M9.7 3.1L11.4 6.2M-9.5 -3.6L-10.2 -7.3M9.3 -3.6L10.3 -7.3M-4.4 3.6L-5.3 6.6M8.6 3.6L7.6 7M-7.4 -3.6L-7 -6.1M-4 3.6L-3.5 7.1M1.8 -3.6L2.3 -5.3M-5.4 -3.6L-6.6 -7.4M-1.2 -3.6L-2.2 -6.4M-4.2 3.6L-4.1 5.2M-10.7 -2.3L-12 -3.4M7.8 -3.6L8.7 -6.3M8.6 -3.5L9 -5.5M-0.3 -3.6L-0.3 -7M3.6 -3.6L3.9 -5.1M-1.3 3.6L-1.9 6.7M4.3 3.6L3.7 6.3M-8.2 3.6L-8.5 6.3M7.3 -3.6L7.5 -6.4M6 3.6L6.4 4.9" stroke="#3a3a3e" stroke-width="0.6" opacity="0.6" fill="none"/><circle cx="-7.3" cy="-1.9" r="0.45" fill="#8d8d90" opacity="0.6"/><circle cx="2.7" cy="0.5" r="0.45" fill="#8d8d90" opacity="0.6"/><circle cx="4.2" cy="0.7" r="0.45" fill="#8d8d90" opacity="0.6"/><circle cx="-8.5" cy="-0.4" r="0.45" fill="#8d8d90" opacity="0.6"/><circle cx="3.7" cy="1.9" r="0.45" fill="#8d8d90" opacity="0.6"/><circle cx="4.5" cy="1.7" r="0.45" fill="#8d8d90" opacity="0.6"/><circle cx="5" cy="-0" r="0.45" fill="#8d8d90" opacity="0.6"/><circle cx="2.9" cy="0.1" r="0.45" fill="#8d8d90" opacity="0.6"/><circle cx="-2.3" cy="-1.5" r="0.45" fill="#8d8d90" opacity="0.6"/><circle cx="-0.1" cy="1" r="0.45" fill="#8d8d90" opacity="0.6"/><circle cx="1.8" cy="-0.3" r="0.45" fill="#8d8d90" opacity="0.6"/><circle cx="-3.5" cy="-0.2" r="0.45" fill="#8d8d90" opacity="0.6"/><circle cx="3.8" cy="1.2" r="0.45" fill="#8d8d90" opacity="0.6"/><circle cx="8.7" cy="-2.2" r="0.45" fill="#8d8d90" opacity="0.6"/><circle cx="0.6" cy="-8.2" r="0.45" fill="#c8c8c8" opacity="0.5"/><circle cx="11.5" cy="6.3" r="0.45" fill="#c8c8c8" opacity="0.5"/><circle cx="-18.2" cy="-1.2" r="0.45" fill="#c8c8c8" opacity="0.5"/><circle cx="16" cy="0.2" r="0.45" fill="#c8c8c8" opacity="0.5"/><circle cx="-14.6" cy="-1.1" r="0.45" fill="#c8c8c8" opacity="0.5"/><circle cx="-15.3" cy="-2.7" r="0.45" fill="#c8c8c8" opacity="0.5"/><circle cx="16.8" cy="-3.5" r="0.45" fill="#c8c8c8" opacity="0.5"/><circle cx="-7.4" cy="-7.6" r="0.45" fill="#c8c8c8" opacity="0.5"/><circle cx="16.7" cy="-1.2" r="0.45" fill="#c8c8c8" opacity="0.5"/><circle cx="-4.2" cy="6.9" r="0.45" fill="#c8c8c8" opacity="0.5"/><path d="M12.5 -1L26 -3L40 -2" stroke="#4a4a4c" stroke-width="0.9" stroke-dasharray="1 1.6" opacity="0.5" fill="none"/></g>
<g transform="translate(564 548.7) rotate(-26) scale(0.95)"><rect x="-13" y="-4.5" width="26" height="9" rx="4.5" fill="#55555a" opacity="0.35" filter="url(#fb)"/><rect x="-11.5" y="-3" width="23" height="6" rx="3" fill="url(#gbf)" opacity="0.9" filter="url(#fb)"/><path d="M6.9 3L7.7 5.1M-11.4 -0.9L-14.3 -1.8M1.3 -3L1 -6.4M-11.2 -1.4L-14.1 -2.9M10.4 -2.3L12.4 -4.8M-0.5 3L-0 6.4M-5.8 3L-6.5 4.9M8.8 -3L9.3 -5.5M1.3 -3L1.1 -4.6M-10.6 -2.2L-11.4 -3.1M-3.5 3L-2.9 5.2M-4.8 -3L-4.6 -5.5M11 -1.7L13 -3M3.8 3L3.7 5.2M7.4 3L7.4 4.6M10.9 -1.8L13.1 -3.5M-7 -3L-7 -4.2M5.1 3L3.9 6.4M1.1 3L2.4 6.5M11.4 -0.7L13.8 -1.2M-0.2 3L0.1 4.8M8.3 -3L7.5 -5.9M-5.1 -3L-4 -6.3M-0.4 3L-0.3 6M9.3 2.9L9.9 4.7M-2.4 3L-2.7 4.9M-9.3 3L-9.5 5M6.2 -3L6 -5.1M7.8 -3L8.9 -6.2M2.5 3L2 4.4M-0.7 3L-0.3 4.3M-7.1 3L-7.5 6.7M-6.8 -3L-7.2 -4.8M-11.5 0.4L-14.3 0.9M1.2 3L0.8 4.3M6 -3L6.5 -6.7M6.3 -3L6.8 -6.3M-4 3L-3.5 5.6M-5.1 -3L-4.5 -6.6M4.6 -3L5.5 -6.5M-3.7 3L-3.5 4.3M2.4 3L1.7 4.9M0.1 3L0.4 5.2M3.6 -3L4.3 -6.4M6.4 3L5.5 6.1M11.3 -1.1L12.9 -1.8M-6.2 -3L-5.7 -6.3M8.4 3L8.2 5.8M-10.9 1.9L-13.6 4M-6 3L-5.4 4.5M-3.3 -3L-2.9 -4.6M-8.5 3L-7.9 4.9M-2.1 3L-1.3 5.2M3.8 3L3.3 4.7M-7.7 3L-7.8 4.6M7.5 3L6.7 5.8M10.3 -2.4L11.8 -4.6M-6.8 -3L-7 -4.4M10.3 2.4L11.9 4.3M-1.7 3L-2.3 5.8M6.4 3L7.6 6.4M9.7 3L10.1 4.3M7 -3L7.3 -4.9M-11.5 -0.3L-12.8 -0.5M-2.6 3L-1.9 6.1M-2 -3L-2 -6.4M9.8 -2.7L10.7 -4.7M-2.6 3L-2.9 5.9M-11.2 1.4L-12.8 2.3M10.7 2.1L12.8 4.1" stroke="#3a3a3e" stroke-width="0.6" opacity="0.45" fill="none"/><circle cx="-6.1" cy="-1.9" r="0.45" fill="#8d8d90" opacity="0.6"/><circle cx="-6.8" cy="-0.7" r="0.45" fill="#8d8d90" opacity="0.6"/><circle cx="-1.3" cy="-2.4" r="0.45" fill="#8d8d90" opacity="0.6"/><circle cx="0" cy="-0.5" r="0.45" fill="#8d8d90" opacity="0.6"/><circle cx="-3.4" cy="0.2" r="0.45" fill="#8d8d90" opacity="0.6"/><circle cx="8.6" cy="-1.4" r="0.45" fill="#8d8d90" opacity="0.6"/><circle cx="7.2" cy="-0.9" r="0.45" fill="#8d8d90" opacity="0.6"/><circle cx="4.8" cy="-1.9" r="0.45" fill="#8d8d90" opacity="0.6"/><circle cx="9.3" cy="-0.3" r="0.45" fill="#8d8d90" opacity="0.6"/><circle cx="8.8" cy="-1.3" r="0.45" fill="#8d8d90" opacity="0.6"/><circle cx="-1.7" cy="1" r="0.45" fill="#8d8d90" opacity="0.6"/><circle cx="-6.1" cy="-1.1" r="0.45" fill="#8d8d90" opacity="0.6"/><circle cx="3.4" cy="2.1" r="0.45" fill="#8d8d90" opacity="0.6"/><circle cx="-3.4" cy="-1.5" r="0.45" fill="#8d8d90" opacity="0.6"/><circle cx="-11.4" cy="6.2" r="0.45" fill="#c8c8c8" opacity="0.5"/><circle cx="10.1" cy="5.9" r="0.45" fill="#c8c8c8" opacity="0.5"/><circle cx="-12.2" cy="5.1" r="0.45" fill="#c8c8c8" opacity="0.5"/><circle cx="4" cy="7.1" r="0.45" fill="#c8c8c8" opacity="0.5"/><circle cx="13.6" cy="-5" r="0.45" fill="#c8c8c8" opacity="0.5"/><circle cx="-11.3" cy="-5.2" r="0.45" fill="#c8c8c8" opacity="0.5"/><circle cx="-13.5" cy="-2.7" r="0.45" fill="#c8c8c8" opacity="0.5"/><circle cx="9" cy="-6.4" r="0.45" fill="#c8c8c8" opacity="0.5"/><circle cx="-16.3" cy="2.1" r="0.45" fill="#c8c8c8" opacity="0.5"/><circle cx="-13.9" cy="3.4" r="0.45" fill="#c8c8c8" opacity="0.5"/><path d="M12.5 -1L26 -3L40 -2" stroke="#4a4a4c" stroke-width="0.9" stroke-dasharray="1 1.6" opacity="0.5" fill="none"/></g>
<g transform="translate(504.3 699.6) rotate(-32) scale(0.95)"><rect x="-13" y="-4.3" width="26" height="8.6" rx="4.3" fill="#55555a" opacity="0.35" filter="url(#fb)"/><rect x="-11.5" y="-2.8" width="23" height="5.6" rx="2.8" fill="url(#gbf)" opacity="0.9" filter="url(#fb)"/><path d="M-5.3 -2.8L-6.3 -5.6M-1 -2.8L-0.5 -4.4M-0.6 2.8L-1.1 5.9M9 2.8L9.1 4.3M-6.1 -2.8L-5.5 -5.3M9 -2.8L9.3 -4.6M8.8 -2.8L8.9 -4.5M11.5 0.5L14.9 1.1M-8.4 2.8L-7.8 5.4M7.9 -2.8L7.4 -4.9M8.4 -2.8L7.9 -4.5M-2.2 2.8L-3.5 6.6M-5.7 2.8L-5.4 4.5M3.3 2.8L4.1 5.8M6.7 2.8L6.3 4.5M5.2 -2.8L5.2 -4.3M-7.5 2.8L-7.7 4.5M9.7 -2.8L9.4 -4.8M10.8 -1.9L13.2 -4.1M-9.8 -2.6L-10.6 -4.5M4 -2.8L3.5 -4.3M7.4 -2.8L7.2 -6.4M-2.2 2.8L-2.3 4.2M-1.6 2.8L-1.3 4.7M3.2 -2.8L2.7 -5.1M-7.2 2.8L-7.5 4.3M7.4 -2.8L6.3 -6.3M9 -2.8L9.3 -6.5M6.2 -2.8L5.8 -4.2M-6.4 2.8L-6.3 4.2M-5.4 -2.8L-5.7 -6.2M2.9 -2.8L2.1 -5.2M-1.9 -2.8L-1.8 -5.3M-10.4 2.2L-11.4 3.5M2.9 2.8L3.8 5.2M7.5 2.8L6.2 6.2M-11.4 -0.8L-14.5 -1.6M-10.6 -2.1L-12.3 -3.9M-3.7 2.8L-4.2 5.1M-8.7 -2.8L-9.1 -4.3M-7.1 -2.8L-7.1 -4.4M1.3 -2.8L1.6 -6.2M9.1 2.8L8.4 6.1M-11.5 0.3L-13.7 0.5M-0.1 -2.8L-0.4 -4.6M0.7 2.8L0.7 5.7M7.6 -2.8L7.6 -6.4M-2.1 2.8L-1.9 4.6M-8.1 2.8L-7.9 4.9M-7.5 2.8L-8.4 5.4M0.9 2.8L1.4 5.9M-9.1 2.8L-9.8 5.9M-0.2 -2.8L-0.1 -4.3M3.7 2.8L3.4 5.6M-10.6 2.1L-12 3.5M9.5 -2.7L10.3 -5.3M6 2.8L5.9 4.2M8.8 2.8L8.9 4.8M-3.6 -2.8L-3.4 -4.1M5.2 -2.8L4.6 -4.4M-3.1 -2.8L-2.9 -4.5M0.9 2.8L1.5 6.6M-9.4 -2.7L-10 -4.8M-1 2.8L-1.2 6.3M4.5 -2.8L4.1 -6.2M4.1 -2.8L4.6 -5.7M-11.1 -1.5L-14 -3.2M-7.4 2.8L-8.2 5.1M-2.4 2.8L-2.1 5M5.4 -2.8L6.4 -6" stroke="#3a3a3e" stroke-width="0.6" opacity="0.45" fill="none"/><circle cx="-3.3" cy="-2.1" r="0.45" fill="#8d8d90" opacity="0.6"/><circle cx="6.1" cy="0.7" r="0.45" fill="#8d8d90" opacity="0.6"/><circle cx="-2.3" cy="1.3" r="0.45" fill="#8d8d90" opacity="0.6"/><circle cx="3.5" cy="-0.2" r="0.45" fill="#8d8d90" opacity="0.6"/><circle cx="1.7" cy="-0.2" r="0.45" fill="#8d8d90" opacity="0.6"/><circle cx="5.1" cy="-1.5" r="0.45" fill="#8d8d90" opacity="0.6"/><circle cx="3.9" cy="-0.5" r="0.45" fill="#8d8d90" opacity="0.6"/><circle cx="-7.8" cy="-0" r="0.45" fill="#8d8d90" opacity="0.6"/><circle cx="2.5" cy="-0.7" r="0.45" fill="#8d8d90" opacity="0.6"/><circle cx="-1.7" cy="-2" r="0.45" fill="#8d8d90" opacity="0.6"/><circle cx="8" cy="1.3" r="0.45" fill="#8d8d90" opacity="0.6"/><circle cx="-4.7" cy="-1.1" r="0.45" fill="#8d8d90" opacity="0.6"/><circle cx="-5.4" cy="1.8" r="0.45" fill="#8d8d90" opacity="0.6"/><circle cx="-8.3" cy="-1.4" r="0.45" fill="#8d8d90" opacity="0.6"/><circle cx="-14.1" cy="3.6" r="0.45" fill="#c8c8c8" opacity="0.5"/><circle cx="-11.2" cy="4" r="0.45" fill="#c8c8c8" opacity="0.5"/><circle cx="6.6" cy="6.5" r="0.45" fill="#c8c8c8" opacity="0.5"/><circle cx="-7" cy="-6.2" r="0.45" fill="#c8c8c8" opacity="0.5"/><circle cx="10.8" cy="6.2" r="0.45" fill="#c8c8c8" opacity="0.5"/><circle cx="-9" cy="5" r="0.45" fill="#c8c8c8" opacity="0.5"/><circle cx="-16.3" cy="0.4" r="0.45" fill="#c8c8c8" opacity="0.5"/><circle cx="-17.3" cy="2.5" r="0.45" fill="#c8c8c8" opacity="0.5"/><circle cx="-9.7" cy="5.1" r="0.45" fill="#c8c8c8" opacity="0.5"/><circle cx="0.3" cy="6.3" r="0.45" fill="#c8c8c8" opacity="0.5"/><path d="M12.5 -1L26 -3L40 -2" stroke="#4a4a4c" stroke-width="0.9" stroke-dasharray="1 1.6" opacity="0.5" fill="none"/></g>
<text x="536.4" y="340.7" textLength="90" lengthAdjust="spacingAndGlyphs" font-size="17.5" font-weight="bold" font-style="normal" fill="#ffffff" stroke="#ffffff" stroke-width="0.5" stroke-linejoin="round">Excrétions,</text>
<text x="546.5" y="363.4" textLength="73.9" lengthAdjust="spacingAndGlyphs" font-size="17.5" font-weight="bold" font-style="normal" fill="#ffffff" stroke="#ffffff" stroke-width="0.5" stroke-linejoin="round">cadavres</text>
<text x="533.5" y="457.6" textLength="78.5" lengthAdjust="spacingAndGlyphs" font-size="17.5" font-weight="bold" font-style="normal" fill="#ffffff" stroke="#ffffff" stroke-width="0.5" stroke-linejoin="round">Protéines</text>
<text x="634.3" y="457.6" textLength="38.8" lengthAdjust="spacingAndGlyphs" font-size="17.5" font-weight="bold" font-style="normal" fill="#ffffff" stroke="#ffffff" stroke-width="0.5" stroke-linejoin="round">Urée</text>
<text x="397.2" y="532" textLength="120" lengthAdjust="spacingAndGlyphs" font-size="17.5" font-weight="bold" font-style="normal" fill="#ffffff" stroke="#ffffff" stroke-width="0.5" stroke-linejoin="round">O2, sources de</text>
<text x="391.9" y="554.7" textLength="130.9" lengthAdjust="spacingAndGlyphs" font-size="17.5" font-weight="bold" font-style="normal" fill="#ffffff" stroke="#ffffff" stroke-width="0.5" stroke-linejoin="round">carbone (acides</text>
<text x="379.4" y="576.6" textLength="157.8" lengthAdjust="spacingAndGlyphs" font-size="17.5" font-weight="bold" font-style="normal" fill="#ffffff" stroke="#ffffff" stroke-width="0.5" stroke-linejoin="round">aminés, acétates...)</text>
<text x="237.7" y="647.4" textLength="100.5" lengthAdjust="spacingAndGlyphs" font-size="17.5" font-weight="bold" font-style="normal" fill="#ffffff" stroke="#ffffff" stroke-width="0.5" stroke-linejoin="round">Assimilation</text>
<text x="235.7" y="670" textLength="100.5" lengthAdjust="spacingAndGlyphs" font-size="17.5" font-weight="bold" font-style="normal" fill="#ffffff" stroke="#ffffff" stroke-width="0.5" stroke-linejoin="round">partielle par</text>
<text x="248" y="691.8" textLength="80" lengthAdjust="spacingAndGlyphs" font-size="17.5" font-weight="bold" font-style="normal" fill="#ffffff" stroke="#ffffff" stroke-width="0.5" stroke-linejoin="round">les algues</text>
<text x="63.4" y="588.5" textLength="62.4" lengthAdjust="spacingAndGlyphs" font-size="17.5" font-weight="bold" font-style="normal" fill="#231f20" stroke="#231f20" stroke-width="0.5" stroke-linejoin="round">Diazote</text>
<text x="83.7" y="612" textLength="22" lengthAdjust="spacingAndGlyphs" font-size="17.5" font-weight="bold" font-style="normal" fill="#231f20" stroke="#231f20" stroke-width="0.5" stroke-linejoin="round">N2</text>
<text x="539.6" y="531.8" textLength="153.6" lengthAdjust="spacingAndGlyphs" font-size="17.5" font-weight="bold" font-style="normal" fill="#231f20" stroke="#231f20" stroke-width="0.5" stroke-linejoin="round">AMMONIFICATION</text>
<text x="569.7" y="597.9" textLength="96.9" lengthAdjust="spacingAndGlyphs" font-size="17.5" font-weight="bold" font-style="normal" fill="#231f20" stroke="#231f20" stroke-width="0.5" stroke-linejoin="round">Ammonium</text>
<text x="600.8" y="619.3" textLength="35.2" lengthAdjust="spacingAndGlyphs" font-size="17.5" font-weight="bold" font-style="normal" fill="#231f20" stroke="#231f20" stroke-width="0.5" stroke-linejoin="round">NH4</text>
<text x="545.5" y="686.7" textLength="114" lengthAdjust="spacingAndGlyphs" font-size="17.5" font-weight="bold" font-style="normal" fill="#231f20" stroke="#231f20" stroke-width="0.5" stroke-linejoin="round">NITROSATION</text>
<text x="553.6" y="746.6" textLength="60.8" lengthAdjust="spacingAndGlyphs" font-size="17.5" font-weight="bold" font-style="normal" fill="#231f20" stroke="#231f20" stroke-width="0.5" stroke-linejoin="round">Nitrites</text>
<text x="566.7" y="768" textLength="34.6" lengthAdjust="spacingAndGlyphs" font-size="17.5" font-weight="bold" font-style="normal" fill="#231f20" stroke="#231f20" stroke-width="0.5" stroke-linejoin="round">NO2</text>
<text x="75.5" y="746.6" textLength="144.5" lengthAdjust="spacingAndGlyphs" font-size="17.5" font-weight="bold" font-style="normal" fill="#231f20" stroke="#231f20" stroke-width="0.5" stroke-linejoin="round">DÉNITRIFICATION</text>
<text x="170.7" y="821.8" textLength="65.3" lengthAdjust="spacingAndGlyphs" font-size="17.5" font-weight="bold" font-style="normal" fill="#231f20" stroke="#231f20" stroke-width="0.5" stroke-linejoin="round">Nitrates</text>
<text x="186" y="843.8" textLength="35" lengthAdjust="spacingAndGlyphs" font-size="17.5" font-weight="bold" font-style="normal" fill="#231f20" stroke="#231f20" stroke-width="0.5" stroke-linejoin="round">NO3</text>
<text x="322.8" y="865.3" textLength="109.2" lengthAdjust="spacingAndGlyphs" font-size="17.5" font-weight="bold" font-style="normal" fill="#231f20" stroke="#231f20" stroke-width="0.5" stroke-linejoin="round">NITRATATION</text>
<text x="587.3" y="551.1" textLength="58.3" lengthAdjust="spacingAndGlyphs" font-size="16.8" font-weight="normal" font-style="italic" fill="#2e2a2b">Bacillus...</text>
<text x="520.8" y="705.6" textLength="162" lengthAdjust="spacingAndGlyphs" font-size="16.8" font-weight="normal" font-style="italic" fill="#2e2a2b">Nitrosomas, Nitrocystis, ...</text>
<text x="40" y="768" textLength="212.7" lengthAdjust="spacingAndGlyphs" font-size="16.8" font-weight="normal" font-style="italic" fill="#2e2a2b">Pseudomonas, Thiobacillus...</text>
<text x="293.5" y="884.4" textLength="167.5" lengthAdjust="spacingAndGlyphs" font-size="16.8" font-weight="normal" font-style="italic" fill="#2e2a2b">Nitrobacter, Nitrococcus, ...</text>
<text x="60" y="935" textLength="56.7" lengthAdjust="spacingAndGlyphs" font-size="14" font-weight="normal" font-style="italic" fill="#2e2a2b">Bactéries</text>
<text x="629.5" y="941" textLength="86" lengthAdjust="spacingAndGlyphs" font-size="11" font-weight="normal" font-style="normal" fill="#1f1b1c" stroke="#1f1b1c" stroke-width="0.25">Denis TOURNASSAT</text>
<text font-size="16.5" font-weight="bold" fill="#231f20" stroke="#231f20" stroke-width="0.35"><textPath href="#tpath" startOffset="6" textLength="128" lengthAdjust="spacingAndGlyphs">NITRIFICATION</textPath></text>
<rect x="0" y="0" width="731" height="2" fill="#ffffff"/>
<rect x="0" y="2" width="731" height="1" fill="#aab9c6"/>
<rect x="730" y="2" width="1" height="730" fill="#98a3b3" opacity="0.88"/>
<rect x="730" y="732" width="1" height="222" fill="#f3e6df" opacity="0.9"/>
<rect x="0" y="3" width="1" height="567" fill="#1a2a40" opacity="0.2"/>
<rect x="0" y="570" width="1" height="384" fill="#ffffff" opacity="0.35"/>
<rect x="0" y="953" width="730" height="1" fill="#ffffff" opacity="0.55"/>
</svg>
</body></html>
